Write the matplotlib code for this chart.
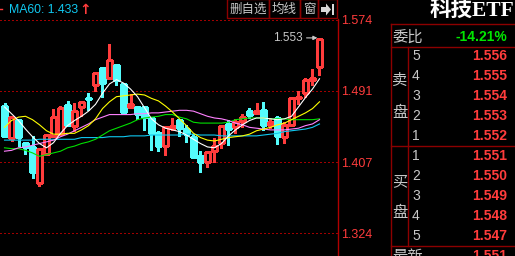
import matplotlib
matplotlib.use('Agg')
import matplotlib.pyplot as plt
from matplotlib.patches import Rectangle, Polygon
import numpy as np

# ---------------- data ----------------
opens = [1.473, 1.436, 1.457, 1.430, 1.425, 1.383, 1.417, 1.438, 1.440, 1.474,
         1.450, 1.472, 1.482, 1.498, 1.518, 1.506, 1.521, 1.499, 1.472, 1.472,
         1.472, 1.459, 1.441, 1.426, 1.447, 1.457, 1.446, 1.437, 1.414, 1.407,
         1.420, 1.430, 1.452, 1.448, 1.455, 1.467, 1.465, 1.468, 1.451, 1.459,
         1.437, 1.451, 1.482, 1.488, 1.504, 1.519]
highs = [1.477, 1.461, 1.458, 1.431, 1.438, 1.424, 1.440, 1.470, 1.473, 1.479,
         1.477, 1.479, 1.488, 1.513, 1.519, 1.546, 1.522, 1.500, 1.487, 1.473,
         1.473, 1.460, 1.444, 1.449, 1.459, 1.458, 1.451, 1.440, 1.420, 1.420,
         1.436, 1.451, 1.457, 1.458, 1.464, 1.471, 1.477, 1.478, 1.459, 1.461,
         1.454, 1.483, 1.491, 1.506, 1.516, 1.553]
lows = [1.437, 1.432, 1.426, 1.417, 1.389, 1.379, 1.416, 1.437, 1.439, 1.450,
        1.444, 1.461, 1.468, 1.491, 1.484, 1.505, 1.498, 1.465, 1.471, 1.458,
        1.445, 1.421, 1.420, 1.416, 1.445, 1.438, 1.431, 1.412, 1.396, 1.401,
        1.407, 1.424, 1.427, 1.441, 1.448, 1.459, 1.464, 1.445, 1.447, 1.428,
        1.430, 1.450, 1.475, 1.484, 1.498, 1.509]
closes = [1.438, 1.460, 1.437, 1.425, 1.396, 1.423, 1.439, 1.460, 1.471, 1.451,
          1.467, 1.478, 1.481, 1.512, 1.500, 1.527, 1.504, 1.466, 1.475, 1.464,
          1.460, 1.441, 1.426, 1.448, 1.450, 1.447, 1.440, 1.413, 1.407, 1.419,
          1.426, 1.450, 1.446, 1.454, 1.460, 1.462, 1.467, 1.451, 1.454, 1.438,
          1.451, 1.482, 1.484, 1.504, 1.506, 1.552]

ma5 = [1.472, 1.464, 1.456, 1.446, 1.437, 1.429, 1.424, 1.430, 1.441, 1.450,
       1.456, 1.461, 1.467, 1.475, 1.488, 1.499, 1.504, 1.500, 1.493, 1.484,
       1.471, 1.458, 1.451, 1.447, 1.445, 1.443, 1.439, 1.434, 1.429, 1.425,
       1.424, 1.429, 1.438, 1.445, 1.451, 1.456, 1.459, 1.459, 1.458, 1.457,
       1.458, 1.461, 1.472, 1.483, 1.493, 1.505]
ma10 = [1.448, 1.456, 1.460, 1.461, 1.457, 1.451, 1.444, 1.440, 1.440, 1.441,
        1.441, 1.445, 1.450, 1.458, 1.470, 1.478, 1.484, 1.485, 1.486, 1.487,
        1.486, 1.482, 1.479, 1.473, 1.466, 1.458, 1.450, 1.441, 1.436, 1.433,
        1.432, 1.434, 1.436, 1.437, 1.438, 1.440, 1.444, 1.446, 1.448, 1.451,
        1.453, 1.457, 1.461, 1.465, 1.470, 1.478]
ma20 = [1.420, 1.421, 1.424, 1.425, 1.427, 1.429, 1.431, 1.433, 1.437, 1.440,
        1.444, 1.448, 1.452, 1.457, 1.460, 1.463, 1.463, 1.463, 1.463, 1.464,
        1.464, 1.465, 1.465, 1.466, 1.467, 1.468, 1.468, 1.467, 1.464, 1.461,
        1.459, 1.458, 1.456, 1.453, 1.451, 1.448, 1.447, 1.446, 1.445, 1.445,
        1.445, 1.446, 1.447, 1.450, 1.452, 1.457]
ma30 = [1.424, 1.423, 1.423, 1.421, 1.418, 1.414, 1.416, 1.418, 1.420, 1.424,
        1.426, 1.429, 1.431, 1.434, 1.439, 1.444, 1.447, 1.450, 1.453, 1.457,
        1.459, 1.460, 1.461, 1.463, 1.463, 1.460, 1.458, 1.454, 1.453, 1.453,
        1.453, 1.453, 1.454, 1.457, 1.458, 1.459, 1.459, 1.459, 1.458, 1.458,
        1.458, 1.457, 1.457, 1.457, 1.457, 1.458]
ma60 = [1.433, 1.433, 1.433, 1.433, 1.433, 1.434, 1.434, 1.434, 1.434, 1.434,
        1.434, 1.436, 1.436, 1.436, 1.436, 1.437, 1.437, 1.437, 1.438, 1.438,
        1.438, 1.439, 1.439, 1.439, 1.439, 1.439, 1.440, 1.440, 1.439, 1.439,
        1.439, 1.438, 1.438, 1.438, 1.438, 1.438, 1.438, 1.439, 1.440, 1.441,
        1.443, 1.444, 1.445, 1.446, 1.448, 1.452]

price_ticks = [1.574, 1.491, 1.407, 1.324]
header_name = 'MA60'
header_value = 1.433
buttons = ['删自选', '均线', '窗']
title = '科技ETF'
ratio_label = '委比'
ratio_value = '-14.21%'
sell_levels = ['5', '4', '3', '2', '1']
sell_prices = [1.556, 1.555, 1.554, 1.553, 1.552]
buy_levels = ['1', '2', '3', '4', '5']
buy_prices = [1.551, 1.550, 1.549, 1.548, 1.547]
last_label = '最新'
last_price = 1.551

# ---------------- style ----------------
RED = '#FF3C3C'
CYAN = '#54FCFC'
GRID = '#A00000'
BORDER = '#8C0000'
GREY = '#C8C8C8'
MA_COLORS = ['#FFFFFF', '#FFFF00', '#FF80FF', '#00E000', '#10C8F0']
CJK = ['Noto Sans CJK SC', 'DejaVu Sans']

W, H = 515, 256
fig = plt.figure(figsize=(W / 100, H / 100), dpi=100, facecolor='black')

CL, CR, CT, CB = 0, 338, 19, 256
ax = fig.add_axes([CL / W, 1 - CB / H, (CR - CL) / W, (CB - CT) / H], facecolor='black')
n = len(opens)
step = 7.0
first = 4.5
ax.set_xlim(-first / step, (CR - first) / step)
ppu = 852.0
ax.set_ylim(price_ticks[0] - (CB - 20) / ppu, price_ticks[0] + (20 - CT) / ppu)

bw = 0.66
for i in range(n):
    o, h, l, c = opens[i], highs[i], lows[i], closes[i]
    up = c >= o
    col = RED if up else CYAN
    ax.vlines(i, l, h, color=col, lw=0.8, antialiased=False, zorder=2)
    bottom = min(o, c)
    height = max(abs(c - o), 0.0003)
    ax.add_patch(Rectangle((i - bw / 2, bottom), bw, height,
                           facecolor='black' if up else col, edgecolor=col,
                           lw=0.8, antialiased=False, zorder=3))

xs = np.arange(n)
for series, colr in zip([ma60, ma30, ma20, ma10, ma5], MA_COLORS[::-1]):
    ax.plot(xs, series, color=colr, lw=0.8, zorder=4)

ax.annotate(f'{highs[-1]:.3f}', xy=(n - 1 - 0.3, highs[-1]), xytext=(-15, 0),
            textcoords='offset pixels', ha='right', va='center', color=GREY,
            fontsize=8.5, family='Liberation Sans',
            arrowprops=dict(arrowstyle='-|>', color=GREY, lw=0.8, shrinkA=1,
                            shrinkB=0, mutation_scale=6))

ax.yaxis.tick_right()
ax.set_yticks(price_ticks)
ax.set_yticklabels([f'{t:.3f}' for t in price_ticks], color=RED, fontsize=9,
                   family='Liberation Sans')
ax.tick_params(axis='y', length=0, pad=2.5)
ax.set_xticks([])
ax.grid(axis='y', color=GRID, lw=0.8, linestyle=(0, (1, 2)), antialiased=False)
for s in ['left', 'top', 'bottom']:
    ax.spines[s].set_visible(False)
ax.spines['right'].set_color('#B00000')
ax.spines['right'].set_linewidth(1.0)

# ---------------- overlay in pixel coordinates ----------------
ov = fig.add_axes([0, 0, 1, 1], facecolor='none')
ov.set_xlim(0, W)
ov.set_ylim(H, 0)
ov.axis('off')

ov.plot([0, 2], [9, 9], color=RED, lw=1)
ov.text(9, 10, f'{header_name}: {header_value:.3f}', color='#10C8F0', fontsize=8.8,
        family='Liberation Sans', va='center', ha='left')
ov.text(79.5, 10, '↑', color=RED, fontsize=10, fontweight='bold',
        family='DejaVu Sans', va='center', ha='left')

edges = [227, 269, 300, 318, 337]
for k in range(len(edges) - 1):
    ov.add_patch(Rectangle((edges[k], -1), edges[k + 1] - edges[k], 19,
                           facecolor='none', edgecolor=BORDER, lw=1))
for k, lab in enumerate(buttons):
    ov.text((edges[k] + edges[k + 1]) / 2, 9, lab, color=GREY, fontsize=9,
            family=CJK, ha='center', va='center')
ov.add_patch(Polygon([(321, 7), (326, 7), (326, 3.5), (331, 9.5), (326, 15.5),
                      (326, 12), (321, 12)], closed=True, facecolor='#D8D8D8',
                     edgecolor='none'))
ov.add_patch(Rectangle((332, 4), 2, 11, facecolor='#D8D8D8', edgecolor='none'))

ov.text(430, 11, title, color='white', fontsize=15.5, fontweight='bold',
        family=['Liberation Serif', 'Noto Sans CJK SC'], ha='left', va='center')

# table
TL, TM, TR = 391, 408, 516
for yy in [24, 47, 146, 246]:
    ov.plot([TL, TR], [yy, yy], color=BORDER, lw=1)
ov.plot([TL, TL], [24, 257], color=BORDER, lw=1)
ov.plot([TM, TM], [47, 246], color=BORDER, lw=1)

ov.text(392, 37, ratio_label, color=GREY, fontsize=11, family=CJK,
        ha='left', va='center')
ov.text(507, 37, ratio_value, color='#00E600', fontsize=10, fontweight='bold',
        family='Liberation Sans', ha='right', va='center')

for k, (lv, pr) in enumerate(zip(sell_levels, sell_prices)):
    yy = 56 + 20 * k
    ov.text(412, yy, lv, color=GREY, fontsize=10, family='Liberation Sans',
            ha='left', va='center')
    ov.text(507, yy, f'{pr:.3f}', color=RED, fontsize=10, fontweight='bold',
            family='Liberation Sans', ha='right', va='center')
for k, (lv, pr) in enumerate(zip(buy_levels, buy_prices)):
    yy = 156 + 20 * k
    ov.text(412, yy, lv, color=GREY, fontsize=10, family='Liberation Sans',
            ha='left', va='center')
    ov.text(507, yy, f'{pr:.3f}', color=RED, fontsize=10, fontweight='bold',
            family='Liberation Sans', ha='right', va='center')

ov.text(399.5, 80, '卖', color=GREY, fontsize=11, family=CJK, ha='center', va='center')
ov.text(399.5, 113, '盘', color=GREY, fontsize=11, family=CJK, ha='center', va='center')
ov.text(399.5, 182, '买', color=GREY, fontsize=11, family=CJK, ha='center', va='center')
ov.text(399.5, 213, '盘', color=GREY, fontsize=11, family=CJK, ha='center', va='center')

ov.text(392, 248, last_label, color=GREY, fontsize=11, family=CJK, ha='left', va='top')
ov.text(507, 249, f'{last_price:.3f}', color=RED, fontsize=10, fontweight='bold',
        family='Liberation Sans', ha='right', va='top')

fig.savefig('out.png', dpi=100, facecolor='black')
